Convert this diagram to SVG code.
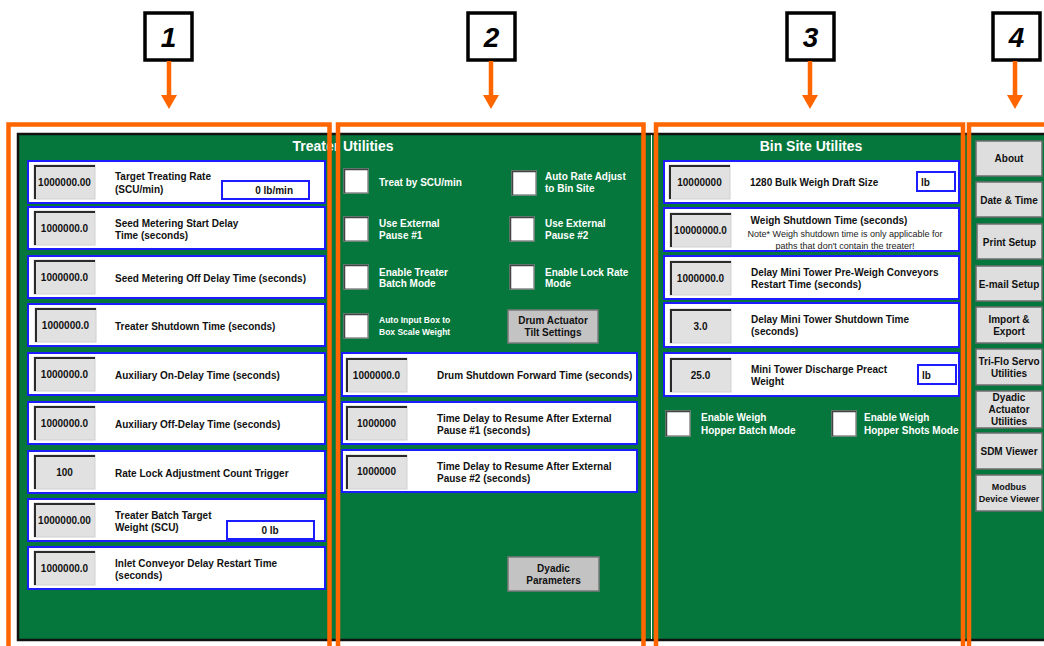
<svg xmlns="http://www.w3.org/2000/svg" width="1044" height="646" viewBox="0 0 1044 646">
<style>
  text{font-family:"Liberation Sans",Arial,sans-serif}
  .lbl{font-size:10px;font-weight:bold;fill:#111}
  .val{font-size:10px;font-weight:bold;fill:#111;text-anchor:middle}
  .wl{font-size:10px;font-weight:bold;fill:#fff}
  .ws{font-size:8.5px;font-weight:bold;fill:#fff}
  .ttl{font-size:14px;font-weight:bold;fill:#fff;text-anchor:middle}
  .note{font-size:9px;fill:#222;text-anchor:middle}
  .btn{font-size:10px;font-weight:bold;fill:#111;text-anchor:middle}
  .row{fill:#fff;stroke:#1c1cff;stroke-width:2}
  .gbox{fill:#e1e1e1;stroke:#d0d0d0;stroke-width:1}
  .sunk{fill:none;stroke:#2a2a2a;stroke-width:2}
  .unit{fill:#fff;stroke:#1c1cff;stroke-width:2}
  .chk{fill:#fff;stroke:#8a8a8a;stroke-width:1.5}
  .chks{fill:none;stroke:#444;stroke-width:1.5}
  .gbtn{fill:#c3c3c3;stroke:#7a7a7a;stroke-width:1.5}
  .sbtn{fill:#dedede;stroke:#6d6d6d;stroke-width:1.5}
  .org{fill:none;stroke:#ff6600;stroke-width:4.5}
  .num{fill:#fff;stroke:#000;stroke-width:3.5}
  .numt{font-size:28px;font-weight:bold;font-style:italic;fill:#000;text-anchor:middle}
</style>

<!-- screen background -->
<g id="screen">
  <rect x="18" y="134" width="1030" height="506" fill="#05773c" stroke="#111" stroke-width="2.5"/>
  <line x1="651.5" y1="135" x2="651.5" y2="639" stroke="#ffffff" stroke-width="1"/>
  <text class="ttl" x="343" y="151">Treater Utilities</text>
  <text class="ttl" x="811" y="151">Bin Site Utilites</text>
</g>

<!-- Panel 1: Treater Utilities (left) -->
<g id="p1-row1">
  <rect class="row" x="28" y="161" width="297" height="42"/>
  <rect class="gbox" x="34" y="165" width="61" height="34"/><path class="sunk" d="M35,199 V166 H95"/>
  <text class="val" x="64.5" y="186">1000000.00</text>
  <text class="lbl" x="115" y="180">Target Treating Rate</text>
  <text class="lbl" x="115" y="193">(SCU/min)</text>
  <rect class="unit" x="222" y="181" width="87" height="18"/>
  <text class="lbl" x="293" y="194" text-anchor="end">0 lb/min</text>
</g>
<g id="p1-row2">
  <rect class="row" x="28" y="207" width="297" height="42"/>
  <rect class="gbox" x="34" y="211" width="61" height="34"/><path class="sunk" d="M35,245 V212 H95"/>
  <text class="val" x="64.5" y="232">1000000.0</text>
  <text class="lbl" x="115" y="226.5">Seed Metering Start Delay</text>
  <text class="lbl" x="115" y="238.5">Time (seconds)</text>
</g>
<g id="p1-row3">
  <rect class="row" x="28" y="256" width="297" height="42"/>
  <rect class="gbox" x="34" y="260" width="61" height="34"/><path class="sunk" d="M35,294 V261 H95"/>
  <text class="val" x="64.5" y="281">1000000.0</text>
  <text class="lbl" x="115" y="281.5">Seed Metering Off Delay Time (seconds)</text>
</g>
<g id="p1-row4">
  <rect class="row" x="28" y="304" width="297" height="42"/>
  <rect class="gbox" x="35" y="308" width="61" height="34"/><path class="sunk" d="M36,342 V309 H96"/>
  <text class="val" x="65.5" y="329">1000000.0</text>
  <text class="lbl" x="115" y="329.5">Treater Shutdown Time (seconds)</text>
</g>
<g id="p1-row5">
  <rect class="row" x="28" y="353" width="297" height="42"/>
  <rect class="gbox" x="34" y="357" width="61" height="34"/><path class="sunk" d="M35,391 V358 H95"/>
  <text class="val" x="64.5" y="378">1000000.0</text>
  <text class="lbl" x="115" y="378.5">Auxiliary On-Delay Time (seconds)</text>
</g>
<g id="p1-row6">
  <rect class="row" x="28" y="402" width="297" height="42"/>
  <rect class="gbox" x="34" y="406" width="61" height="34"/><path class="sunk" d="M35,440 V407 H95"/>
  <text class="val" x="64.5" y="427">1000000.0</text>
  <text class="lbl" x="115" y="427.5">Auxiliary Off-Delay Time (seconds)</text>
</g>
<g id="p1-row7">
  <rect class="row" x="28" y="451" width="297" height="42"/>
  <rect class="gbox" x="34" y="455" width="61" height="34"/><path class="sunk" d="M35,489 V456 H95"/>
  <text class="val" x="64.5" y="476">100</text>
  <text class="lbl" x="115" y="476.5">Rate Lock Adjustment Count Trigger</text>
</g>
<g id="p1-row8">
  <rect class="row" x="28" y="499" width="297" height="42"/>
  <rect class="gbox" x="34" y="503" width="61" height="34"/><path class="sunk" d="M35,537 V504 H95"/>
  <text class="val" x="64.5" y="524">1000000.00</text>
  <text class="lbl" x="115" y="518.5">Treater Batch Target</text>
  <text class="lbl" x="115" y="530.5">Weight (SCU)</text>
  <rect class="unit" x="227" y="521" width="87" height="18"/>
  <text class="lbl" x="270" y="534" text-anchor="middle">0 lb</text>
</g>
<g id="p1-row9">
  <rect class="row" x="28" y="547" width="297" height="42"/>
  <rect class="gbox" x="34" y="551" width="61" height="34"/><path class="sunk" d="M35,585 V552 H95"/>
  <text class="val" x="64.5" y="572">1000000.0</text>
  <text class="lbl" x="115" y="566.5">Inlet Conveyor Delay Restart Time</text>
  <text class="lbl" x="115" y="578.5">(seconds)</text>
</g>

<!-- Panel 2 -->
<g id="p2-chk1">
  <rect class="chk" x="344" y="169" width="24" height="24"/><path class="chks" d="M344.5,193 V169.5 H368"/>
  <text class="wl" x="379" y="186">Treat by SCU/min</text>
</g>
<g id="p2-chk2">
  <rect class="chk" x="512" y="171" width="24" height="24"/><path class="chks" d="M512.5,195 V171.5 H536"/>
  <text class="wl" x="545" y="179.5">Auto Rate Adjust</text>
  <text class="wl" x="545" y="191.5">to Bin Site</text>
</g>
<g id="p2-chk3">
  <rect class="chk" x="344" y="217" width="24" height="24"/><path class="chks" d="M344.5,241 V217.5 H368"/>
  <text class="wl" x="379" y="226.5">Use External</text>
  <text class="wl" x="379" y="238.5">Pause #1</text>
</g>
<g id="p2-chk4">
  <rect class="chk" x="510" y="217" width="24" height="24"/><path class="chks" d="M510.5,241 V217.5 H534"/>
  <text class="wl" x="545" y="226.5">Use External</text>
  <text class="wl" x="545" y="238.5">Pause #2</text>
</g>
<g id="p2-chk5">
  <rect class="chk" x="344" y="265" width="24" height="24"/><path class="chks" d="M344.5,289 V265.5 H368"/>
  <text class="wl" x="379" y="275.5">Enable Treater</text>
  <text class="wl" x="379" y="287">Batch Mode</text>
</g>
<g id="p2-chk6">
  <rect class="chk" x="510" y="265" width="24" height="24"/><path class="chks" d="M510.5,289 V265.5 H534"/>
  <text class="wl" x="545" y="275.5">Enable Lock Rate</text>
  <text class="wl" x="545" y="287">Mode</text>
</g>
<g id="p2-chk7">
  <rect class="chk" x="344" y="314" width="24" height="24"/><path class="chks" d="M344.5,338 V314.5 H368"/>
  <text class="ws" x="379" y="323">Auto Input Box to</text>
  <text class="ws" x="379" y="335">Box Scale Weight</text>
</g>
<g id="p2-btn-drum">
  <rect class="gbtn" x="508" y="310" width="90" height="33"/>
  <text class="btn" x="553" y="324">Drum Actuator</text>
  <text class="btn" x="553" y="336">Tilt Settings</text>
</g>
<g id="p2-row1">
  <rect class="row" x="342" y="353" width="295" height="43"/>
  <rect class="gbox" x="346" y="358" width="61" height="34"/><path class="sunk" d="M347,392 V359 H407"/>
  <text class="val" x="376.5" y="378.5">1000000.0</text>
  <text class="lbl" x="437" y="378.5">Drum Shutdown Forward Time (seconds)</text>
</g>
<g id="p2-row2">
  <rect class="row" x="342" y="402" width="295" height="42"/>
  <rect class="gbox" x="346" y="406" width="61" height="34"/><path class="sunk" d="M347,440 V407 H407"/>
  <text class="val" x="376.5" y="427">1000000</text>
  <text class="lbl" x="437" y="421.5">Time Delay to Resume After External</text>
  <text class="lbl" x="437" y="433.5">Pause #1 (seconds)</text>
</g>
<g id="p2-row3">
  <rect class="row" x="342" y="450" width="295" height="42"/>
  <rect class="gbox" x="346" y="455" width="61" height="34"/><path class="sunk" d="M347,489 V456 H407"/>
  <text class="val" x="376.5" y="475">1000000</text>
  <text class="lbl" x="437" y="469.5">Time Delay to Resume After External</text>
  <text class="lbl" x="437" y="481.5">Pause #2 (seconds)</text>
</g>
<g id="p2-btn-dyadic">
  <rect class="gbtn" x="508" y="557" width="91" height="34"/>
  <text class="btn" x="553.5" y="571.5">Dyadic</text>
  <text class="btn" x="553.5" y="583.5">Parameters</text>
</g>

<!-- Panel 3: Bin Site Utilites -->
<g id="p3-row1">
  <rect class="row" x="664" y="161" width="295" height="42"/>
  <rect class="gbox" x="669" y="165" width="61" height="34"/><path class="sunk" d="M670,199 V166 H730"/>
  <text class="val" x="699.5" y="186">10000000</text>
  <text class="lbl" x="750" y="185.5">1280 Bulk Weigh Draft Size</text>
  <rect class="unit" x="917" y="172" width="38" height="19"/>
  <text class="lbl" x="921" y="185.5">lb</text>
</g>
<g id="p3-row2">
  <rect class="row" x="664" y="208" width="295" height="43"/>
  <rect class="gbox" x="670" y="213" width="61" height="34"/><path class="sunk" d="M671,247 V214 H731"/>
  <text class="val" x="700.5" y="234">10000000.0</text>
  <text class="lbl" x="829" y="223.5" text-anchor="middle">Weigh Shutdown Time (seconds)</text>
  <text class="note" x="845" y="236.5">Note*  Weigh shutdown time is only applicable for</text>
  <text class="note" x="845" y="248.5">paths that don't contain the treater!</text>
</g>
<g id="p3-row3">
  <rect class="row" x="664" y="256" width="295" height="43"/>
  <rect class="gbox" x="670" y="261" width="61" height="34"/><path class="sunk" d="M671,295 V262 H731"/>
  <text class="val" x="700.5" y="281.5">1000000.0</text>
  <text class="lbl" x="751" y="275.5">Delay Mini Tower Pre-Weigh Conveyors</text>
  <text class="lbl" x="751" y="287.5">Restart Time (seconds)</text>
</g>
<g id="p3-row4">
  <rect class="row" x="664" y="303" width="295" height="44"/>
  <rect class="gbox" x="670" y="309" width="61" height="34"/><path class="sunk" d="M671,343 V310 H731"/>
  <text class="val" x="700.5" y="329.5">3.0</text>
  <text class="lbl" x="751" y="322.5">Delay Mini Tower Shutdown Time</text>
  <text class="lbl" x="751" y="334.5">(seconds)</text>
</g>
<g id="p3-row5">
  <rect class="row" x="664" y="353" width="295" height="43"/>
  <rect class="gbox" x="670" y="358" width="61" height="34"/><path class="sunk" d="M671,392 V359 H731"/>
  <text class="val" x="700.5" y="378.5">25.0</text>
  <text class="lbl" x="751" y="372.5">Mini Tower Discharge Preact</text>
  <text class="lbl" x="751" y="384.5">Weight</text>
  <rect class="unit" x="918" y="365" width="38" height="19"/>
  <text class="lbl" x="922" y="378.5">lb</text>
</g>
<g id="p3-chk1">
  <rect class="chk" x="666" y="411" width="24" height="25"/><path class="chks" d="M666.5,436 V411.5 H690"/>
  <text class="wl" x="701" y="420.5">Enable Weigh</text>
  <text class="wl" x="701" y="433.5">Hopper Batch Mode</text>
</g>
<g id="p3-chk2">
  <rect class="chk" x="832" y="411" width="24" height="25"/><path class="chks" d="M832.5,436 V411.5 H856"/>
  <text class="wl" x="864" y="420.5">Enable Weigh</text>
  <text class="wl" x="864" y="433.5">Hopper Shots Mode</text>
</g>

<!-- Panel 4: side buttons -->
<g id="p4-about"><rect class="sbtn" x="976" y="141" width="66" height="35"/><text class="btn" x="1009" y="162">About</text></g>
<g id="p4-date"><rect class="sbtn" x="976" y="182" width="66" height="35"/><text class="btn" x="1009" y="203.5">Date &amp; Time</text></g>
<g id="p4-print"><rect class="sbtn" x="977" y="224" width="65" height="35"/><text class="btn" x="1009.5" y="245.5">Print Setup</text></g>
<g id="p4-email"><rect class="sbtn" x="976" y="266" width="66" height="35"/><text class="btn" x="1009" y="287.5">E-mail Setup</text></g>
<g id="p4-import"><rect class="sbtn" x="976" y="307" width="66" height="36"/><text class="btn" x="1009" y="322.5">Import &amp;</text><text class="btn" x="1009" y="334.5">Export</text></g>
<g id="p4-triflo"><rect class="sbtn" x="976" y="349" width="66" height="36"/><text class="btn" x="1009" y="364.5">Tri-Flo Servo</text><text class="btn" x="1009" y="376.5">Utilities</text></g>
<g id="p4-dyadic"><rect class="sbtn" x="976" y="391" width="66" height="37"/><text class="btn" x="1009" y="400.5">Dyadic</text><text class="btn" x="1009" y="412.5">Actuator</text><text class="btn" x="1009" y="424.5">Utilities</text></g>
<g id="p4-sdm"><rect class="sbtn" x="976" y="433" width="66" height="36"/><text class="btn" x="1009" y="454.5">SDM Viewer</text></g>
<g id="p4-modbus"><rect class="sbtn" x="976" y="475" width="66" height="36"/><text class="btn" x="1009" y="490" style="font-size:9px">Modbus</text><text class="btn" x="1009" y="502" style="font-size:9px">Device Viewer</text></g>

<!-- Callout numbers -->
<g id="callout-1"><rect class="num" x="145" y="13" width="47" height="47"/><text class="numt" x="168.5" y="47">1</text></g>
<g id="callout-2"><rect class="num" x="468" y="13" width="47" height="47"/><text class="numt" x="491.5" y="47">2</text></g>
<g id="callout-3"><rect class="num" x="787" y="13" width="47" height="47"/><text class="numt" x="810.5" y="47">3</text></g>
<g id="callout-4"><rect class="num" x="993" y="13" width="47" height="47"/><text class="numt" x="1016.5" y="47">4</text></g>

<!-- Orange highlight frames -->
<g id="frames">
  <path class="org" d="M8.5,660 V124.5 H329.5 V660"/>
  <path class="org" d="M338,660 V124.5 H643.5 V660"/>
  <path class="org" d="M656,660 V124.5 H963 V660"/>
  <path class="org" d="M969,660 V124.5 H1050"/>
</g>

<!-- Connectors -->
<g id="connectors" fill="#ff6600" stroke="#ff6600">
  <line x1="169" y1="61" x2="169" y2="97" stroke-width="4.5"/>
  <polygon points="161,95 177,95 169,109" stroke="none"/>
  <line x1="491" y1="61" x2="491" y2="97" stroke-width="4.5"/>
  <polygon points="483,95 499,95 491,109" stroke="none"/>
  <line x1="810" y1="61" x2="810" y2="97" stroke-width="4.5"/>
  <polygon points="802,95 818,95 810,109" stroke="none"/>
  <line x1="1015" y1="61" x2="1015" y2="97" stroke-width="4.5"/>
  <polygon points="1007,95 1023,95 1015,109" stroke="none"/>
</g>
</svg>
